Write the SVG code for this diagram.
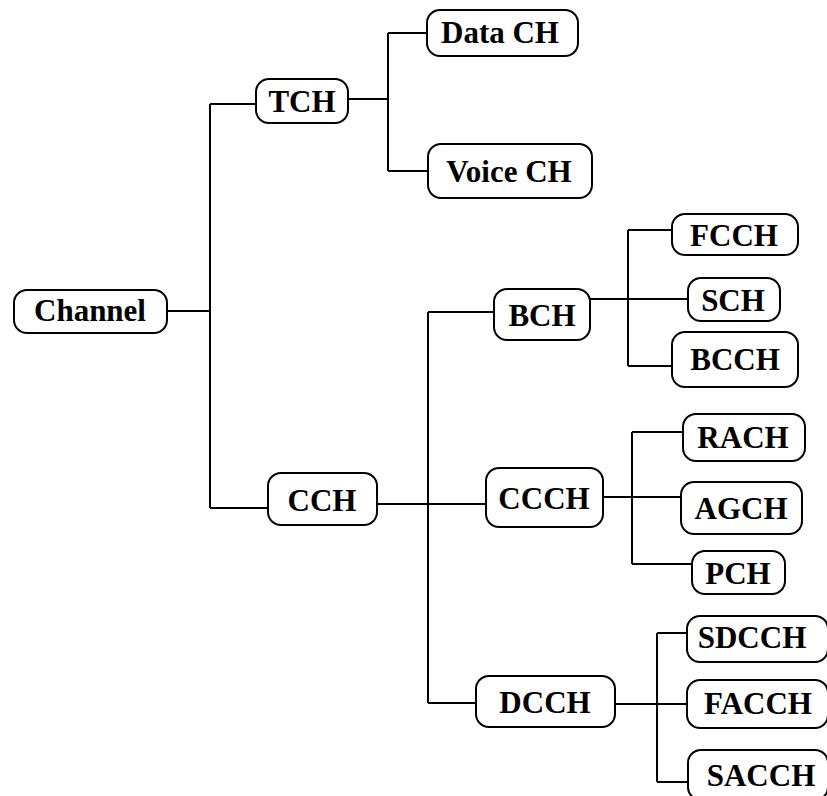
<svg xmlns="http://www.w3.org/2000/svg" width="827" height="796" viewBox="0 0 827 796">
  <style>
    .box { fill: #fff; stroke: #000; stroke-width: 2; }
    .lbl { font-family: "Liberation Serif", "Times New Roman", serif; font-weight: bold; font-size: 31px; fill: #000; text-anchor: middle; }
    .wire { fill: none; stroke: #000; stroke-width: 2; }
  </style>
  <rect width="827" height="796" fill="#fff"/>

  <!-- connectors -->
  <g id="connectors" class="wire">
    <path d="M167 311 H210 M210 104 V508 M210 104 H256 M210 508 H268"/>
    <path d="M348 99 H388 M388 33 V171 M388 33 H427 M388 171 H428"/>
    <path d="M377 504 H486 M428 312 V703 M428 312 H494 M428 703 H476"/>
    <path d="M590 299 H688 M628 230 V366 M628 230 H672 M628 366 H672"/>
    <path d="M603 497 H681 M632 432 V564 M632 432 H683 M632 564 H692"/>
    <path d="M615 704 H687 M657 633 V782 M657 633 H687 M657 782 H688"/>
  </g>

  <!-- nodes -->
  <g id="channel"><rect class="box" x="14" y="290" width="153" height="43" rx="13"/><text class="lbl" x="90" y="321">Channel</text></g>
  <g id="tch"><rect class="box" x="256" y="79" width="92" height="44" rx="13"/><text class="lbl" x="302" y="112">TCH</text></g>
  <g id="data-ch"><rect class="box" x="427" y="10" width="151" height="46" rx="13"/><text class="lbl" x="500" y="43">Data CH</text></g>
  <g id="voice-ch"><rect class="box" x="428" y="144" width="164" height="54" rx="13"/><text class="lbl" x="509" y="182">Voice CH</text></g>
  <g id="cch"><rect class="box" x="268" y="473" width="109" height="52" rx="13"/><text class="lbl" x="322" y="511">CCH</text></g>
  <g id="bch"><rect class="box" x="494" y="289" width="96" height="51" rx="13"/><text class="lbl" x="542" y="326">BCH</text></g>
  <g id="ccch"><rect class="box" x="486" y="468" width="117" height="59" rx="13"/><text class="lbl" x="544" y="509">CCCH</text></g>
  <g id="dcch"><rect class="box" x="476" y="676" width="139" height="51" rx="13"/><text class="lbl" x="545" y="713">DCCH</text></g>
  <g id="fcch"><rect class="box" x="672" y="214" width="126" height="41" rx="13"/><text class="lbl" x="734" y="246">FCCH</text></g>
  <g id="sch"><rect class="box" x="688" y="278" width="92" height="43" rx="13"/><text class="lbl" x="733" y="311">SCH</text></g>
  <g id="bcch"><rect class="box" x="672" y="332" width="126" height="55" rx="13"/><text class="lbl" x="735" y="370">BCCH</text></g>
  <g id="rach"><rect class="box" x="683" y="414" width="122" height="47" rx="13"/><text class="lbl" x="743" y="448">RACH</text></g>
  <g id="agch"><rect class="box" x="681" y="482" width="121" height="52" rx="13"/><text class="lbl" x="741" y="519">AGCH</text></g>
  <g id="pch"><rect class="box" x="692" y="551" width="93" height="43" rx="13"/><text class="lbl" x="738" y="584">PCH</text></g>
  <g id="sdcch"><rect class="box" x="687" y="616" width="141" height="46" rx="13"/><text class="lbl" x="752" y="648">SDCCH</text></g>
  <g id="facch"><rect class="box" x="687" y="680" width="141" height="48" rx="13"/><text class="lbl" x="758" y="714">FACCH</text></g>
  <g id="sacch"><rect class="box" x="688" y="750" width="140" height="50" rx="13"/><text class="lbl" x="761" y="786">SACCH</text></g>
</svg>
